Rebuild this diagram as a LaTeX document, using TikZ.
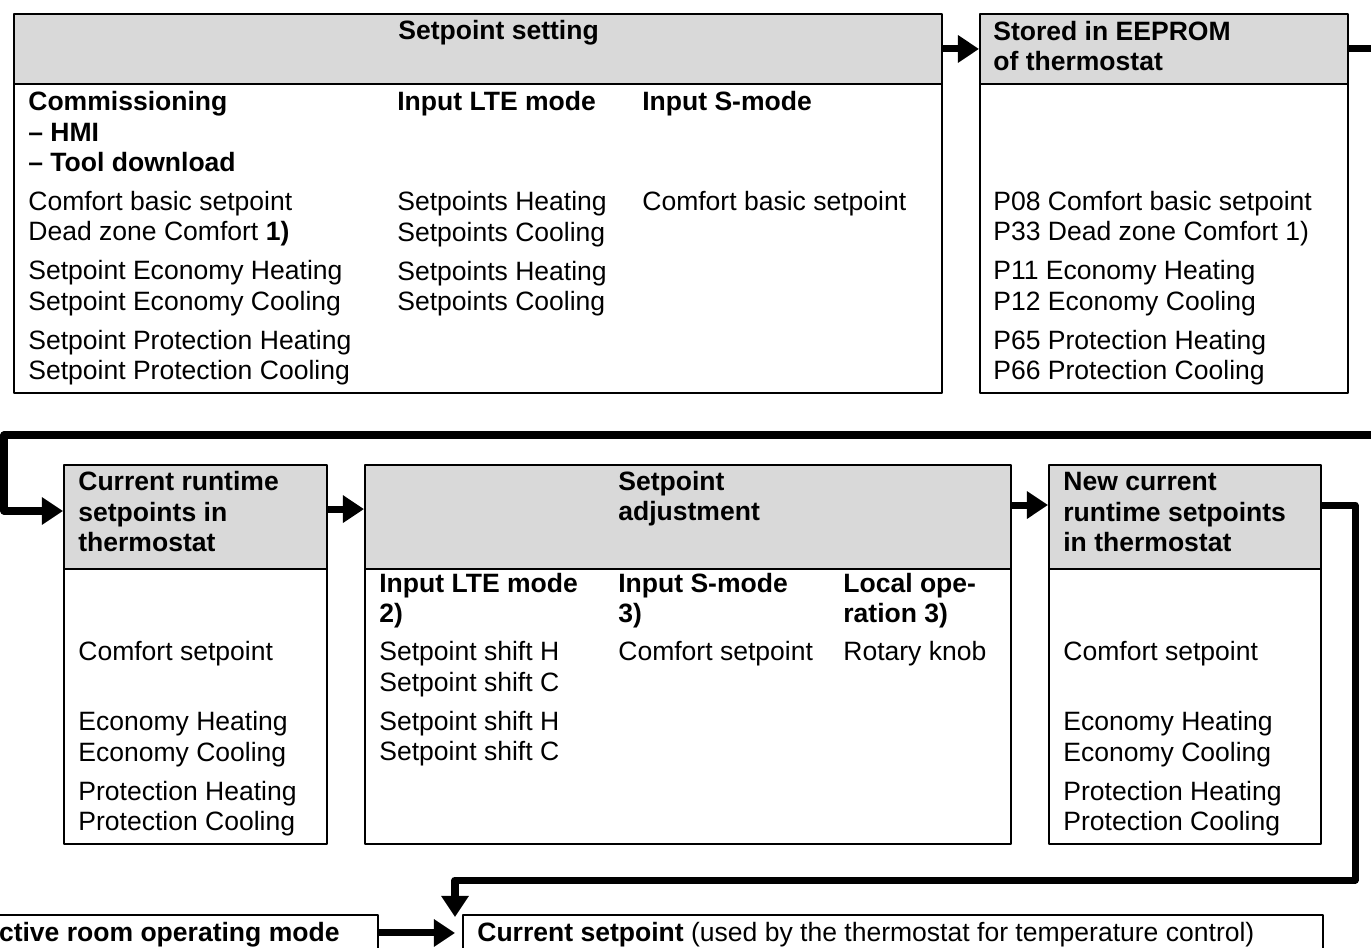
\documentclass[tikz,border=0pt]{standalone}
\usepackage{fontspec}
\setmainfont{Liberation Sans}
\usetikzlibrary{arrows.meta}

\newcommand\boxfont{\fontsize{15.1}{17.35}\selectfont}

\begin{document}
\begin{tikzpicture}[
  x=0.02cm, y=-0.02cm,
  line join=round,
  every node/.style={font=\boxfont, inner sep=0pt, anchor=north west},
  frame/.style={draw, line width=1.1pt},
  head/.style={frame, fill=black!15},
  txt/.style={anchor=base west, align=left},
  hdr/.style={txt, font=\boxfont\bfseries},
  flow/.style={line width=4pt, -{Triangle[length=12pt,width=15pt]}}
]
\useasboundingbox (0,0) rectangle (1371,947);
\clip (0,0) rectangle (1371,947);

% ------------------------------------------------------------------
% Setpoint setting  (text nodes sit on the baseline of their last line)
% ------------------------------------------------------------------
\node[head, minimum width=18.56cm, minimum height=1.40cm] (sethead) at (13,13) {};
\node[frame, minimum width=18.56cm, minimum height=6.18cm] (setbody) at (13,83) {};

\node[hdr] (settitle) at (398,39.5) {Setpoint setting};
\node[hdr] (commhead) at (28,171.5) {Commissioning\\– HMI\\– Tool download};
\node[hdr] (ltehead) at (397,110.5) {Input LTE mode};
\node[hdr] (smodehead) at (642,110.5) {Input S-mode};

\node[txt] (commrows) at (28,379.5) {Comfort basic setpoint\\Dead zone Comfort \textbf{1)}\\[4.8pt]
  Setpoint Economy Heating\\Setpoint Economy Cooling\\[4.8pt]
  Setpoint Protection Heating\\Setpoint Protection Cooling};
\node[txt] (lterows) at (397,310.5) {Setpoints Heating\\Setpoints Cooling\\[4.8pt]
  Setpoints Heating\\Setpoints Cooling};
\node[txt] (smoderows) at (642,210.5) {Comfort basic setpoint};

% ------------------------------------------------------------------
% Stored in EEPROM
% ------------------------------------------------------------------
\node[head, minimum width=7.36cm, minimum height=1.40cm] (eephead) at (979,13) {};
\node[frame, minimum width=7.36cm, minimum height=6.18cm] (eepbody) at (979,83) {};

\node[hdr] (eeptitle) at (993,70.5) {Stored in EEPROM\\of thermostat};
\node[txt] (eeprows) at (993,379.5) {P08 Comfort basic setpoint\\P33 Dead zone Comfort 1)\\[4.8pt]
  P11 Economy Heating\\P12 Economy Cooling\\[4.8pt]
  P65 Protection Heating\\P66 Protection Cooling};

% ------------------------------------------------------------------
% Current runtime setpoints
% ------------------------------------------------------------------
\node[head, minimum width=5.26cm, minimum height=2.08cm] (curhead) at (63,464) {};
\node[frame, minimum width=5.26cm, minimum height=5.50cm] (curbody) at (63,568) {};

\node[hdr] (curtitle) at (78,551.5) {Current runtime\\setpoints in\\thermostat};
\node[txt] (curcomf) at (78,660.5) {Comfort setpoint};
\node[txt] (currows) at (78,830.5) {Economy Heating\\Economy Cooling\\[4.8pt]
  Protection Heating\\Protection Cooling};

% ------------------------------------------------------------------
% Setpoint adjustment
% ------------------------------------------------------------------
\node[head, minimum width=12.92cm, minimum height=2.08cm] (adjhead) at (364,464) {};
\node[frame, minimum width=12.92cm, minimum height=5.50cm] (adjbody) at (364,568) {};

\node[hdr] (adjtitle) at (618,520.5) {Setpoint\\adjustment};
\node[hdr] (adjlte) at (379,622.5) {Input LTE mode\\2)};
\node[hdr] (adjsmode) at (618,622.5) {Input S-mode\\3)};
\node[hdr] (adjlocal) at (843,622.5) {Local ope-\\ration 3)};

\node[txt] (shiftrows) at (379,760.5) {Setpoint shift H\\Setpoint shift C\\[4.8pt]
  Setpoint shift H\\Setpoint shift C};
\node[txt] (adjcomf) at (618,660.5) {Comfort setpoint};
\node[txt] (adjknob) at (843,660.5) {Rotary knob};

% ------------------------------------------------------------------
% New current runtime setpoints
% ------------------------------------------------------------------
\node[head, minimum width=5.44cm, minimum height=2.08cm] (newhead) at (1048,464) {};
\node[frame, minimum width=5.44cm, minimum height=5.50cm] (newbody) at (1048,568) {};

\node[hdr] (newtitle) at (1063,551.5) {New current\\runtime setpoints\\in thermostat};
\node[txt] (newcomf) at (1063,660.5) {Comfort setpoint};
\node[txt] (newrows) at (1063,830.5) {Economy Heating\\Economy Cooling\\[4.8pt]
  Protection Heating\\Protection Cooling};

% ------------------------------------------------------------------
% Current setpoint
% ------------------------------------------------------------------
\node[frame, minimum width=8.04cm, minimum height=0.72cm] (roomop) at (-25,914) {};
\node[hdr] (roomoptext) at (-20.5,941.5) {Active room operating mode};
\node[frame, minimum width=17.2cm, minimum height=1.2cm] (cursp) at (462,914) {};
\node[txt] (cursptext) at (477,941.5) {\textbf{Current setpoint} (used by the thermostat for temperature control)};

% ------------------------------------------------------------------
% Flow
% ------------------------------------------------------------------
\coordinate (edgeR) at (1400,435);
\coordinate (loopL) at (4,435);
\coordinate (turnR) at (1355,880);
\coordinate (merge) at (455,917);

\draw[flow] (sethead.east) -- (eephead.west);
\draw[flow] (eephead.east) -| (edgeR) -- (loopL) |- ([yshift=3.4pt]curhead.west);
\draw[flow] ([yshift=4.5pt]curhead.east) -- ([yshift=4.5pt]adjhead.west);
\draw[flow] ([yshift=6.8pt]adjhead.east) -- ([yshift=6.8pt]newhead.west);
\draw[flow] ([yshift=6.8pt]newhead.east) -| (turnR) -| (merge);
\draw[flow] (roomop.east) -- (roomop.east -| merge);

\end{tikzpicture}
\end{document}
